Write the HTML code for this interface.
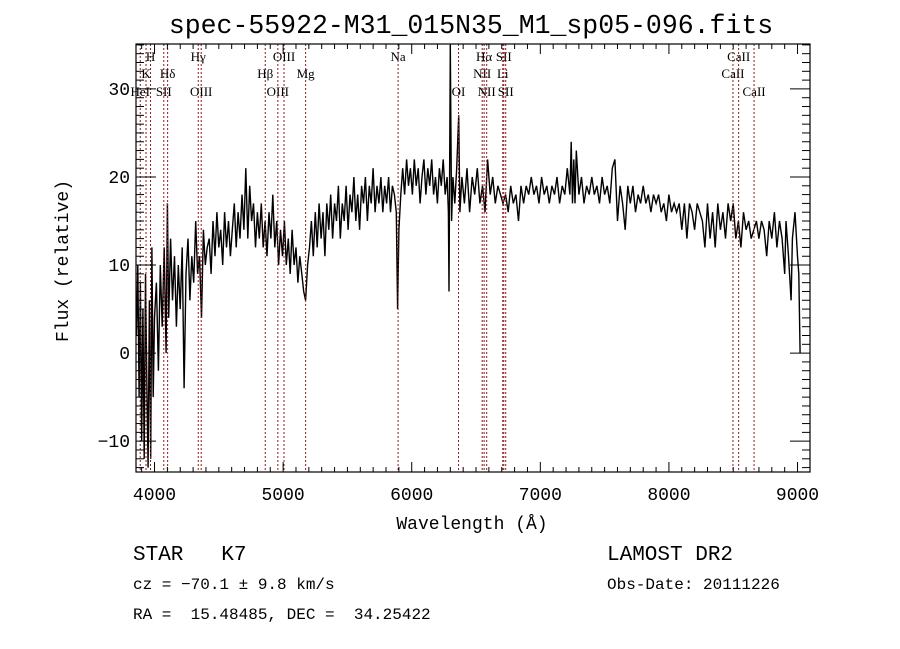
<!DOCTYPE html>
<html><head><meta charset="utf-8"><style>
body{margin:0;background:#fff}
svg{display:block}
.t{font-family:"Liberation Mono",monospace;fill:#000}
.s{font-family:"Liberation Serif",serif;fill:#000;font-size:13px}
</style></head><body>
<svg id="c" width="900" height="649">
<rect width="900" height="649" fill="#fff"/>
<text class="t" x="471" y="33" font-size="26.5" text-anchor="middle">spec-55922-M31_015N35_M1_sp05-096.fits</text>
<g id="marks"></g><g id="lines"></g><g id="axes"></g>
<text class="t" x="472" y="529" font-size="18" text-anchor="middle">Wavelength (Å)</text>
<text class="t" transform="translate(68,261) rotate(-90)" font-size="18" text-anchor="middle">Flux (relative)</text>
<text class="t" x="133" y="560" font-size="21" xml:space="preserve">STAR   K7</text>
<text class="t" x="133" y="589" font-size="16">cz = −70.1 ± 9.8 km/s</text>
<text class="t" x="133" y="619" font-size="16" xml:space="preserve">RA =  15.48485, DEC =  34.25422</text>
<text class="t" x="607" y="560" font-size="21">LAMOST DR2</text>
<text class="t" x="607" y="589" font-size="16">Obs-Date: 20111226</text>
</svg>
<script>
const waves=[3860,3870,3880,3890,3900,3910,3920,3930,3940,3950,3960,3970,3980,3990,4000,4015,4030,4045,4060,4075,4090,4100,4110,4125,4140,4155,4170,4185,4200,4215,4230,4245,4260,4275,4290,4305,4320,4335,4350,4365,4380,4395,4410,
4425,4440,4455,4470,4485,4500,4515,4530,4545,4560,4575,4590,4605,4620,4635,4650,4665,4680,4695,4710,4725,4740,4755,4770,4785,4800,4815,4830,4845,4860,4875,4890,4905,4920,4935,4950,4965,4980,4995,5010,5025,5040,5055,5070,5085,5100,5115,5130,5145,5160,5175,5190,5205,
5220,5235,5250,5265,5280,5295,5310,5325,5340,5355,5370,5385,5400,5415,5430,5445,5460,5475,5490,5505,5520,5535,5550,5565,5580,5595,5610,5625,5640,5655,5670,5685,5700,5715,5730,5745,5760,5775,5790,5805,5820,5835,5850,5865,5880,5890,5900,
5915,5930,5945,5960,5975,5990,6005,6020,6035,6050,6065,6080,6095,6110,6125,6140,6155,6170,6185,6200,6215,6230,6245,6260,6275,6285,6290,6300,6310,6320,6335,6350,6365,6375,
6390,6410,6430,6450,6470,6490,6510,6530,6550,6570,6590,6610,6630,6650,6670,6690,6710,6730,6750,6770,6790,6810,6830,6850,6870,6890,6910,6930,6950,6970,6990,7010,7030,7050,7070,7090,7110,7130,7150,7170,7190,7210,7230,7240,7250,7260,7270,7280,7300,7320,7340,7360,7380,7400,7420,7440,7460,7480,7500,7520,7540,7560,7580,7600,7620,7640,7660,7680,7700,7720,7740,7760,7780,7800,7820,7840,7860,7880,7900,7920,7940,7960,7980,8000,8020,8040,8060,8080,8100,8120,8140,8160,8180,8200,8220,8240,8260,8280,8300,8320,8340,8360,8380,8400,8420,8440,8460,8480,8500,8520,8540,8560,8580,8600,8620,8640,8660,8680,8700,8720,8740,8760,8780,8800,8820,8840,8860,8880,8900,8910,8930,8950,8960,8980,9000,9010,9020];
const flux=[2,10,-5,8,-10,5,-12,9,-3,-13,6,-12,12,-5,4,8,-2,10,3,12,0,17,4,13,6,11,3,10,5,12,-4,9,13,6,11,8,15,9,11,4,14,10,12,
13,9,15,11,16,12,14,10,16,12,15,11,14,17,12,16,13,18,14,21,13,19,15,17,12,16,13,17,12,15,11,16,13,18,12,15,10,14,11,15,10,13,9,14,10,12,8,11,9,7,6,10,12,
15,11,16,12,17,13,16,11,17,14,18,13,17,15,19,13,17,15,19,14,18,16,20,15,18,14,19,17,20,15,19,17,21,16,19,17,20,16,19,17,20,16,19,18,16,5,14,
18,21,18,22,19,21,18,22,19,21,17,20,22,18,21,19,22,18,20,17,21,19,22,18,20,16,7,35,15,20,17,21,27,16,
20,17,21,16,20,18,21,17,19,16,22,18,20,17,19,18,17,18,16,19,17,18,15,19,17,19,18,20,18,19,17,20,18,19,17,19,18,20,17,19,18,21,18,24,17,22,17,23,18,20,17,19,18,20,18,19,17,20,18,19,17,21,22,15,19,17,14,19,17,19,16,18,17,19,17,18,16,18,17,18,16,17,15,18,16,17,16,17,14,17,13,17,16,14,17,16,15,12,17,13,16,12,17,14,16,13,17,15,17,13,15,12,16,14,15,13,14,15,13,15,14,11,15,13,16,12,15,13,9,15,11,6,13,16,11,9,0];
const xTicks=[4000,5000,6000,7000,8000,9000];
const yTicks=[-10,0,10,20,30];
const lineWaves=[3889,3934,3969,4072,4102,4340,4363,4861,4959,5007,5175,5894,6364,6548,6563,6583,6708,6716,6731,8498,8542,8662];
const labelText=["HeI","K","H","SII","Hδ","Hγ","OIII","Hβ","OIII","OIII","Mg","Na","OI","NII","Hα","NII","Li","SII","SII","CaII","CaII","CaII"];
const labelRow=[3,2,1,3,2,1,3,2,3,1,2,1,3,2,1,3,2,1,3,2,1,3];
const L=136,R=810,T=44,B=472,W0=3856,W1=9097,F0=-13.5,F1=35.1;
const X=w=>L+(w-W0)/(W1-W0)*(R-L);
const Y=f=>B-(f-F0)/(F1-F0)*(B-T);
const NS="http://www.w3.org/2000/svg";
function mk(t,a,p){const e=document.createElementNS(NS,t);for(const k in a)e.setAttribute(k,a[k]);p.appendChild(e);return e;}
const marks=document.getElementById('marks'),lines=document.getElementById('lines'),axes=document.getElementById('axes');
let d=waves.map((w,i)=>(i?'L':'M')+X(w).toFixed(1)+','+Math.max(T,Y(flux[i])).toFixed(1)).join('');
const sp=mk('path',{d:d,fill:'none',stroke:'#000','stroke-width':1.4},marks);


const rowY=[0,61,78,96];
lineWaves.forEach((w,i)=>{
 const l=mk('line',{x1:X(w),x2:X(w),y1:T,y2:B,stroke:'#8b1a1a','stroke-width':1,'stroke-dasharray':'2,2'},lines);
 
 
 const t=mk('text',{x:X(w),y:rowY[labelRow[i]],'text-anchor':'middle',class:'s'},lines);
 t.textContent=labelText[i];
 
 
});
const fr=mk('rect',{x:L,y:T,width:R-L,height:B-T,fill:'none',stroke:'#000','stroke-width':1.2},axes);


for(let w=3900;w<=9000;w+=100){const maj=w%1000===0,h=maj?10:5;
 mk('line',{x1:X(w),x2:X(w),y1:B,y2:B-h,stroke:'#000'},axes);
 mk('line',{x1:X(w),x2:X(w),y1:T,y2:T+h,stroke:'#000'},axes);}
for(let f=-13;f<=35;f+=1){const maj=f%10===0,h=maj?20:8;
 mk('line',{x1:L,x2:L+h,y1:Y(f),y2:Y(f),stroke:'#000'},axes);
 mk('line',{x1:R,x2:R-h,y1:Y(f),y2:Y(f),stroke:'#000'},axes);}
xTicks.forEach(v=>{const t=mk('text',{x:X(v),y:B+28,'text-anchor':'middle',class:'t','font-size':18},axes);t.textContent=v;
 
 });
yTicks.forEach(v=>{const t=mk('text',{x:L-6,y:Y(v)+6,'text-anchor':'end',class:'t','font-size':18},axes);t.textContent=v<0?'−'+(-v):v;
 
 });
</script>
</body></html>
